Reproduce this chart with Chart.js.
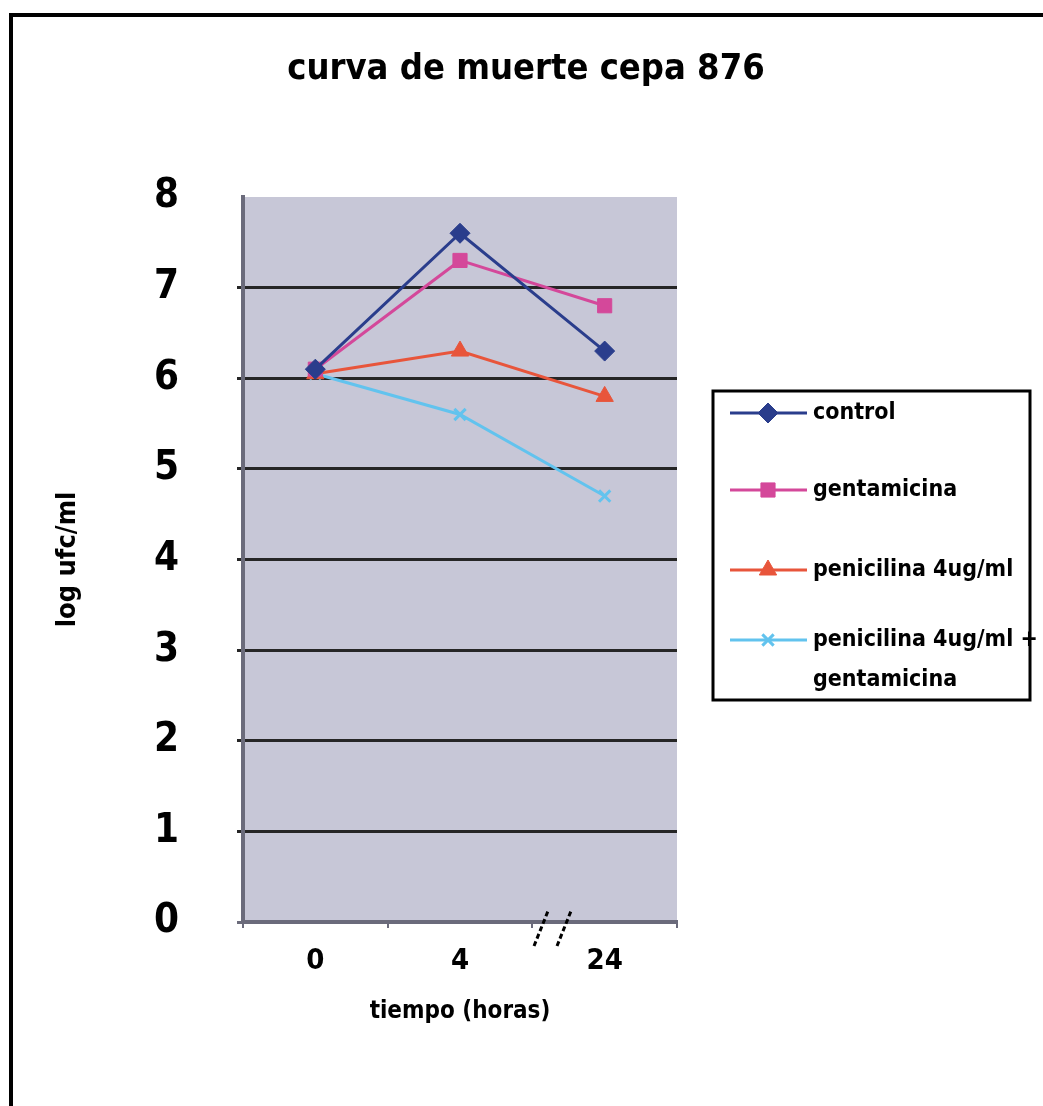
<!DOCTYPE html>
<html>
<head>
<meta charset="utf-8">
<title>curva de muerte cepa 876</title>
<script src="https://cdn.jsdelivr.net/npm/chart.js@4.4.0/dist/chart.umd.min.js"></script>
<style>
  body { margin: 0; background: #fff; overflow: hidden; }
  #wrap { position: relative; width: 1043px; height: 1106px; }
  #frame { position: absolute; left: 9px; top: 13px; width: 1100px; height: 1200px;
           border-left: 4px solid #000; border-top: 4px solid #000; pointer-events: none; }
  canvas { position: absolute; left: 0; top: 0; }
</style>
</head>
<body>
<div id="wrap">
  <canvas id="deathChart" width="1043" height="1106"></canvas>
  <div id="frame"></div>
</div>
<script>
// data
const chartTitle = "curva de muerte cepa 876"
const timeLabels = ["0", "4", "24"]
const yTicks = [0, 1, 2, 3, 4, 5, 6, 7, 8]

const controlVals = [6.1, 7.6, 6.3]
const gentamicinaVals = [6.1, 7.3, 6.8]
const penicilinaVals = [6.05, 6.3, 5.8]
const penGentVals = [6.05, 5.6, 4.7]

const seriesNames = ["control", "gentamicina", "penicilina 4ug/ml", ["penicilina 4ug/ml +", "gentamicina"]]

const FONT = "'Liberation Sans Narrow', 'DejaVu Sans Condensed', 'Arial Narrow', sans-serif"

function makeSet(label, data, color, style, radius) {
  return {
    label: Array.isArray(label) ? label.join(" ") : label,
    data: data,
    borderColor: color,
    backgroundColor: color,
    borderWidth: 3,
    pointStyle: style,
    pointRadius: radius,
    pointBorderWidth: style === 'crossRot' ? 3 : 1,
    tension: 0
  };
}

const datasets = [
  makeSet(seriesNames[0], controlVals, '#2a3d8c', 'rectRot', 10),
  makeSet(seriesNames[1], gentamicinaVals, '#d4489a', 'rect', 10),
  makeSet(seriesNames[2], penicilinaVals, '#e8553b', 'triangle', 10),
  makeSet(seriesNames[3], penGentVals, '#62c3ee', 'crossRot', 8)
];

// grey plot area + title + break marks + legend
const decoPlugin = {
  id: 'deco',
  beforeDraw(chart) {
    const {ctx, chartArea} = chart;
    ctx.save();
    ctx.fillStyle = '#c7c7d7';
    ctx.fillRect(chartArea.left, chartArea.top, chartArea.right - chartArea.left, chartArea.bottom - chartArea.top);
    ctx.restore();
  },
  afterDraw(chart) {
    const {ctx, chartArea} = chart;
    const xs = chart.scales.x;
    ctx.save();
    // title
    ctx.fillStyle = '#000';
    ctx.font = "bold 36px " + FONT;
    ctx.textAlign = 'center';
    ctx.textBaseline = 'middle';
    ctx.fillText(chartTitle, 526, 70);

    // axis break "//" between 4 and 24
    const step = xs.getPixelForValue(2) - xs.getPixelForValue(1);
    const bx = xs.getPixelForValue(1) + step * 0.56;
    const by = chartArea.bottom;
    ctx.strokeStyle = '#000';
    ctx.lineWidth = 3;
    ctx.setLineDash([5, 3]);
    [0, 23].forEach(dx => {
      ctx.beginPath();
      ctx.moveTo(bx + dx - 7, by + 24);
      ctx.lineTo(bx + dx + 7, by - 11);
      ctx.stroke();
    });
    ctx.setLineDash([]);

    // legend
    const lx = chartArea.right + 36;
    const ly = 391;
    ctx.lineWidth = 3;
    ctx.strokeStyle = '#000';
    ctx.strokeRect(lx, ly, 317, 309);
    const rows = [413, 490, 570, 640];
    ctx.font = "bold 23px " + FONT;
    ctx.textAlign = 'left';
    chart.data.datasets.forEach((ds, i) => {
      const y = rows[i];
      ctx.strokeStyle = ds.borderColor;
      ctx.fillStyle = ds.borderColor;
      ctx.lineWidth = 3;
      ctx.beginPath();
      ctx.moveTo(lx + 17, y);
      ctx.lineTo(lx + 94, y);
      ctx.stroke();
      ctx.lineWidth = ds.pointBorderWidth;
      Chart.helpers.drawPoint(ctx, {
        pointStyle: ds.pointStyle,
        radius: ds.pointRadius,
        borderWidth: ds.pointBorderWidth
      }, lx + 55, y);
      ctx.fillStyle = '#000';
      const name = seriesNames[i];
      if (Array.isArray(name)) {
        name.forEach((t, k) => ctx.fillText(t, lx + 100, y + k * 40));
      } else {
        ctx.fillText(name, lx + 100, y);
      }
    });
    ctx.restore();
  }
};

const ctx = document.getElementById('deathChart').getContext('2d');

new Chart(ctx, {
  type: 'line',
  data: {
    labels: timeLabels,
    datasets: datasets
  },
  options: {
    responsive: false,
    animation: false,
    devicePixelRatio: 1,
    layout: {
      padding: { top: 197, right: 366, bottom: 0, left: 0 }
    },
    plugins: {
      legend: { display: false },
      tooltip: { enabled: false }
    },
    scales: {
      x: {
        offset: true,
        afterFit: (s) => { s.height = 184; },
        grid: {
          offset: true,
          drawOnChartArea: false,
          drawTicks: true,
          tickLength: 6,
          color: '#6b6b7b',
          lineWidth: 2
        },
        border: { color: '#6b6b7b', width: 4 },
        ticks: {
          color: '#000',
          padding: 16,
          font: { family: FONT, weight: 'bold', size: 29 }
        },
        title: {
          display: true,
          text: 'tiempo (horas)',
          color: '#000',
          padding: { bottom: 80 },
          font: { family: FONT, weight: 'bold', size: 24 }
        }
      },
      y: {
        min: 0,
        max: 8,
        afterFit: (s) => { s.width = 243; },
        afterBuildTicks: (s) => { s.ticks = yTicks.map(v => ({ value: v })); },
        grid: {
          color: (c) => c.tick && c.tick.value === 8 ? 'rgba(0,0,0,0)' : (c.tick && c.tick.value === 0 ? '#6b6b7b' : '#262626'),
          lineWidth: 3,
          tickLength: 6
        },
        border: { color: '#6b6b7b', width: 4 },
        ticks: {
          color: '#000',
          padding: 58,
          font: { family: FONT, weight: 'bold', size: 40 }
        },
        title: {
          display: true,
          text: 'log ufc/ml',
          color: '#000',
          padding: { top: 52 },
          font: { family: FONT, weight: 'bold', size: 27 }
        }
      }
    }
  },
  plugins: [decoPlugin]
});
</script>
</body>
</html>
